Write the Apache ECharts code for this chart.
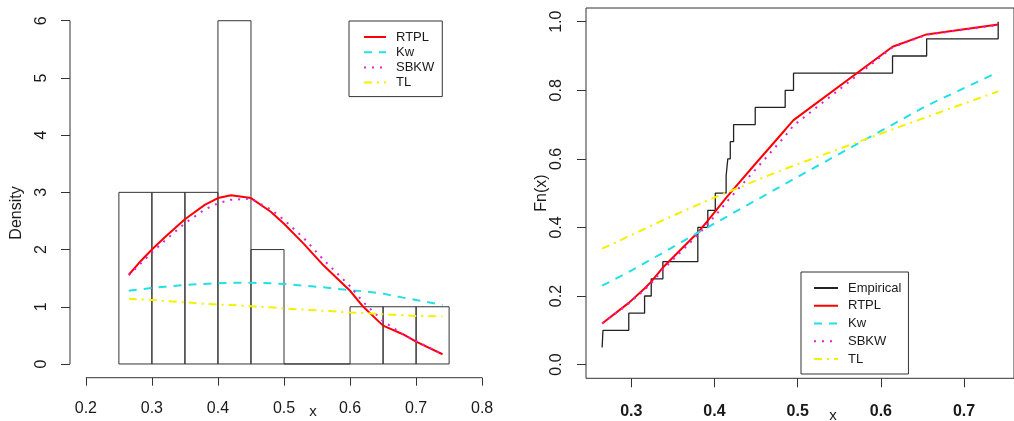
<!DOCTYPE html>
<html>
<head>
<meta charset="utf-8">
<script src="https://cdn.jsdelivr.net/npm/echarts/dist/echarts.min.js"></script>
<style>
html,body{margin:0;padding:0;background:#fff;}
#chart{width:1014px;height:421px;}
</style>
</head>
<body>
<div id="chart"></div>
<script>
// ---------- DATA ----------
// histogram (left panel)
const binStart = [0.25, 0.30, 0.35, 0.40, 0.45, 0.50, 0.55, 0.60, 0.65, 0.70];
const binEnd   = [0.30, 0.35, 0.40, 0.45, 0.50, 0.55, 0.60, 0.65, 0.70, 0.75];
const binDensity = [3, 3, 3, 6, 2, 0, 0, 1, 1, 1];

// fitted densities (left panel)
const xDens = [0.265, 0.28, 0.30, 0.32, 0.35, 0.38, 0.40, 0.42, 0.45, 0.48, 0.50, 0.53, 0.56, 0.60, 0.62, 0.65, 0.68, 0.70, 0.74];
const densRTPL = [1.56, 1.76, 2.00, 2.22, 2.53, 2.78, 2.90, 2.95, 2.90, 2.66, 2.45, 2.10, 1.72, 1.28, 1.00, 0.67, 0.52, 0.39, 0.17];
const densKw   = [1.28, 1.30, 1.33, 1.35, 1.38, 1.40, 1.41, 1.42, 1.42, 1.41, 1.40, 1.37, 1.34, 1.29, 1.27, 1.23, 1.16, 1.12, 1.03];
const densSBKW = [1.55, 1.72, 1.95, 2.16, 2.46, 2.70, 2.81, 2.87, 2.89, 2.70, 2.52, 2.20, 1.82, 1.36, 1.08, 0.75, 0.52, 0.40, 0.17];
const densTL   = [1.14, 1.13, 1.12, 1.10, 1.08, 1.05, 1.04, 1.03, 1.01, 0.99, 0.97, 0.95, 0.93, 0.90, 0.89, 0.87, 0.85, 0.84, 0.83];

// empirical CDF (right panel)
const sampleX = [0.265, 0.266, 0.297, 0.316, 0.324, 0.338, 0.380, 0.380, 0.392, 0.401, 0.414, 0.416, 0.419, 0.423, 0.449, 0.485, 0.495, 0.614, 0.655, 0.741];
const ecdfY   = [0.05, 0.10, 0.15, 0.20, 0.25, 0.30, 0.35, 0.40, 0.45, 0.50, 0.55, 0.60, 0.65, 0.70, 0.75, 0.80, 0.85, 0.90, 0.95, 1.00];

// fitted CDFs (right panel)
const xCdf = [0.265, 0.266, 0.297, 0.316, 0.324, 0.338, 0.380, 0.392, 0.401, 0.414, 0.416, 0.419, 0.423, 0.449, 0.485, 0.495, 0.614, 0.655, 0.741];
const cdfRTPL = [0.120, 0.122, 0.180, 0.222, 0.242, 0.283, 0.385, 0.420, 0.447, 0.486, 0.492, 0.501, 0.512, 0.585, 0.685, 0.713, 0.927, 0.963, 0.992];
const cdfKw   = [0.230, 0.231, 0.270, 0.296, 0.307, 0.326, 0.385, 0.400, 0.413, 0.430, 0.433, 0.437, 0.443, 0.478, 0.527, 0.541, 0.700, 0.755, 0.853];
const cdfSBKW = [0.120, 0.122, 0.178, 0.218, 0.237, 0.277, 0.378, 0.410, 0.435, 0.472, 0.478, 0.486, 0.497, 0.568, 0.667, 0.697, 0.925, 0.962, 0.990];
const cdfTL   = [0.338, 0.339, 0.374, 0.396, 0.405, 0.421, 0.466, 0.479, 0.488, 0.501, 0.503, 0.506, 0.510, 0.536, 0.571, 0.580, 0.686, 0.722, 0.797];

// tick labels
const xTicksL = [0.2, 0.3, 0.4, 0.5, 0.6, 0.7, 0.8];
const yTicksL = [0, 1, 2, 3, 4, 5, 6];
const xTicksR = [0.3, 0.4, 0.5, 0.6, 0.7];
const yTicksR = [0.0, 0.2, 0.4, 0.6, 0.8, 1.0];

// ---------- STYLE ----------
const FONT = '"Liberation Sans", Arial, sans-serif';
const TXT = '#1a1a1a';
const AX = '#333333';
const C_RTPL = '#ff0000', C_KW = '#22e0e6', C_SBKW = '#e020e0', C_TL = '#f2f200';
const DASH_KW = [8, 7], DOT_SBKW = [2, 6], DASHDOT_TL = [8, 5, 2, 5];

const zip = (xs, ys) => xs.map((x, i) => [x, ys[i]]);

const xMinL = 0.176, xMaxL = 0.824, yMinL = -0.24, yMaxL = 6.24;
const xMinR = 0.2456, xMaxR = 0.760, yMinR = -0.04, yMaxR = 1.04;

function lineSeries(name, xi, yi, data, color, type, width) {
  return {
    name: name, type: 'line', xAxisIndex: xi, yAxisIndex: yi, data: data,
    symbol: 'none', smooth: false, silent: true, animation: false,
    lineStyle: { color: color, width: width || 2, type: type || 'solid' },
    itemStyle: { color: color }
  };
}

const option = {
  animation: false,
  backgroundColor: '#ffffff',
  textStyle: { fontFamily: FONT },
  grid: [
    { left: 70, top: 7, width: 428, height: 370.7, containLabel: false },
    { left: 586, top: 8, width: 435, height: 370.3, containLabel: false,
      show: true, borderColor: AX, borderWidth: 1, backgroundColor: 'transparent' }
  ],
  xAxis: [
    { type: 'value', gridIndex: 0, min: xMinL, max: xMaxL,
      axisLine: { show: false, onZero: false }, splitLine: { show: false },
      axisTick: { show: true, customValues: xTicksL, length: 8, lineStyle: { color: AX } },
      axisLabel: { customValues: xTicksL, formatter: v => v.toFixed(1), fontSize: 16, color: TXT, margin: 23, fontFamily: FONT } },
    { type: 'value', gridIndex: 1, min: xMinR, max: xMaxR,
      axisLine: { show: false, onZero: false }, splitLine: { show: false },
      axisTick: { show: true, customValues: xTicksR, length: 9, lineStyle: { color: AX } },
      axisLabel: { customValues: xTicksR, formatter: v => v.toFixed(1), fontSize: 16, fontWeight: 'bold', color: TXT, margin: 25, fontFamily: FONT } }
  ],
  yAxis: [
    { type: 'value', gridIndex: 0, min: yMinL, max: yMaxL,
      axisLine: { show: false, onZero: false }, splitLine: { show: false },
      axisTick: { show: true, customValues: yTicksL, length: 9, lineStyle: { color: AX } },
      axisLabel: { customValues: yTicksL, formatter: v => String(v), rotate: 90, fontSize: 16, color: TXT, margin: 20, fontFamily: FONT } },
    { type: 'value', gridIndex: 1, min: yMinR, max: yMaxR,
      axisLine: { show: false, onZero: false }, splitLine: { show: false },
      axisTick: { show: true, customValues: yTicksR, length: 9, lineStyle: { color: AX } },
      axisLabel: { customValues: yTicksR, formatter: v => v.toFixed(1), rotate: 90, fontSize: 16, color: TXT, margin: 21, fontFamily: FONT } }
  ],
  legend: [
    { orient: 'vertical', left: 349, top: 21, data: ['RTPL', 'Kw', 'SBKW', 'TL'],
      borderColor: AX, borderWidth: 1, borderRadius: 0, padding: [9, 8, 7, 14],
      itemWidth: 22, itemHeight: 10, itemGap: 1.2, selectedMode: false,
      itemStyle: { opacity: 0 },
      textStyle: { fontSize: 13, lineHeight: 14, color: TXT, fontFamily: FONT, padding: [0, 0, 0, 5] } },
    { orient: 'vertical', left: 801, top: 272, data: ['Empirical', 'RTPL', 'Kw', 'SBKW', 'TL'],
      borderColor: AX, borderWidth: 1, borderRadius: 0, padding: [9, 7, 8, 12],
      itemWidth: 24, itemHeight: 10, itemGap: 3.75, selectedMode: false,
      itemStyle: { opacity: 0 },
      textStyle: { fontSize: 13, lineHeight: 14, color: TXT, fontFamily: FONT, padding: [0, 0, 0, 5] } }
  ],
  graphic: [
    { type: 'text', silent: true, style: { text: 'Density', x: 0, y: 0, align: 'center', verticalAlign: 'middle', fontSize: 16, fill: TXT, fontFamily: FONT }, rotation: Math.PI / 2, x: 17, y: 213 },
    { type: 'text', silent: true, style: { text: 'x', x: 0, y: 0, align: 'center', verticalAlign: 'middle', fontSize: 15, fill: TXT, fontFamily: FONT }, x: 313, y: 412 },
    { type: 'text', silent: true, style: { text: 'Fn(x)', x: 0, y: 0, align: 'center', verticalAlign: 'middle', fontSize: 16, fill: TXT, fontFamily: FONT }, rotation: Math.PI / 2, x: 542, y: 193 },
    { type: 'text', silent: true, style: { text: 'x', x: 0, y: 0, align: 'center', verticalAlign: 'middle', fontSize: 15, fill: TXT, fontFamily: FONT }, x: 833, y: 416 }
  ],
  series: [
    // histogram
    { type: 'custom', name: 'hist', xAxisIndex: 0, yAxisIndex: 0, silent: true, animation: false,
      data: binStart.map((s, i) => [s, binEnd[i], binDensity[i]]),
      encode: { x: [0, 1], y: 2 },
      renderItem: function (params, api) {
        const p0 = api.coord([api.value(0), api.value(2)]);
        const p1 = api.coord([api.value(1), 0]);
        return { type: 'rect', shape: { x: p0[0], y: p0[1], width: p1[0] - p0[0], height: p1[1] - p0[1] },
                 style: { fill: 'none', stroke: AX, lineWidth: 1 } };
      } },
    // left panel axis lines (R style: from first to last tick)
    { type: 'line', name: 'axisx', xAxisIndex: 0, yAxisIndex: 0, silent: true, symbol: 'none', clip: false,
      data: [[xTicksL[0], yMinL], [xTicksL[xTicksL.length - 1], yMinL]], lineStyle: { color: AX, width: 1 } },
    { type: 'line', name: 'axisy', xAxisIndex: 0, yAxisIndex: 0, silent: true, symbol: 'none', clip: false,
      data: [[xMinL, yTicksL[0]], [xMinL, yTicksL[yTicksL.length - 1]]], lineStyle: { color: AX, width: 1 } },
    lineSeries('RTPL', 0, 0, zip(xDens, densRTPL), C_RTPL, 'solid', 2),
    lineSeries('Kw', 0, 0, zip(xDens, densKw), C_KW, DASH_KW, 2),
    lineSeries('SBKW', 0, 0, zip(xDens, densSBKW), C_SBKW, DOT_SBKW, 2),
    lineSeries('TL', 0, 0, zip(xDens, densTL), C_TL, DASHDOT_TL, 2),
    // right panel
    Object.assign(lineSeries('Empirical', 1, 1, zip(sampleX, ecdfY), '#222222', 'solid', 1.3), { step: 'end' }),
    lineSeries('RTPL', 1, 1, zip(xCdf, cdfRTPL), C_RTPL, 'solid', 2),
    lineSeries('Kw', 1, 1, zip(xCdf, cdfKw), C_KW, DASH_KW, 2),
    lineSeries('SBKW', 1, 1, zip(xCdf, cdfSBKW), C_SBKW, DOT_SBKW, 2),
    lineSeries('TL', 1, 1, zip(xCdf, cdfTL), C_TL, DASHDOT_TL, 2)
  ]
};

const chart = echarts.init(document.getElementById('chart'), null, { renderer: 'canvas' });
chart.setOption(option);
</script>
</body>
</html>
